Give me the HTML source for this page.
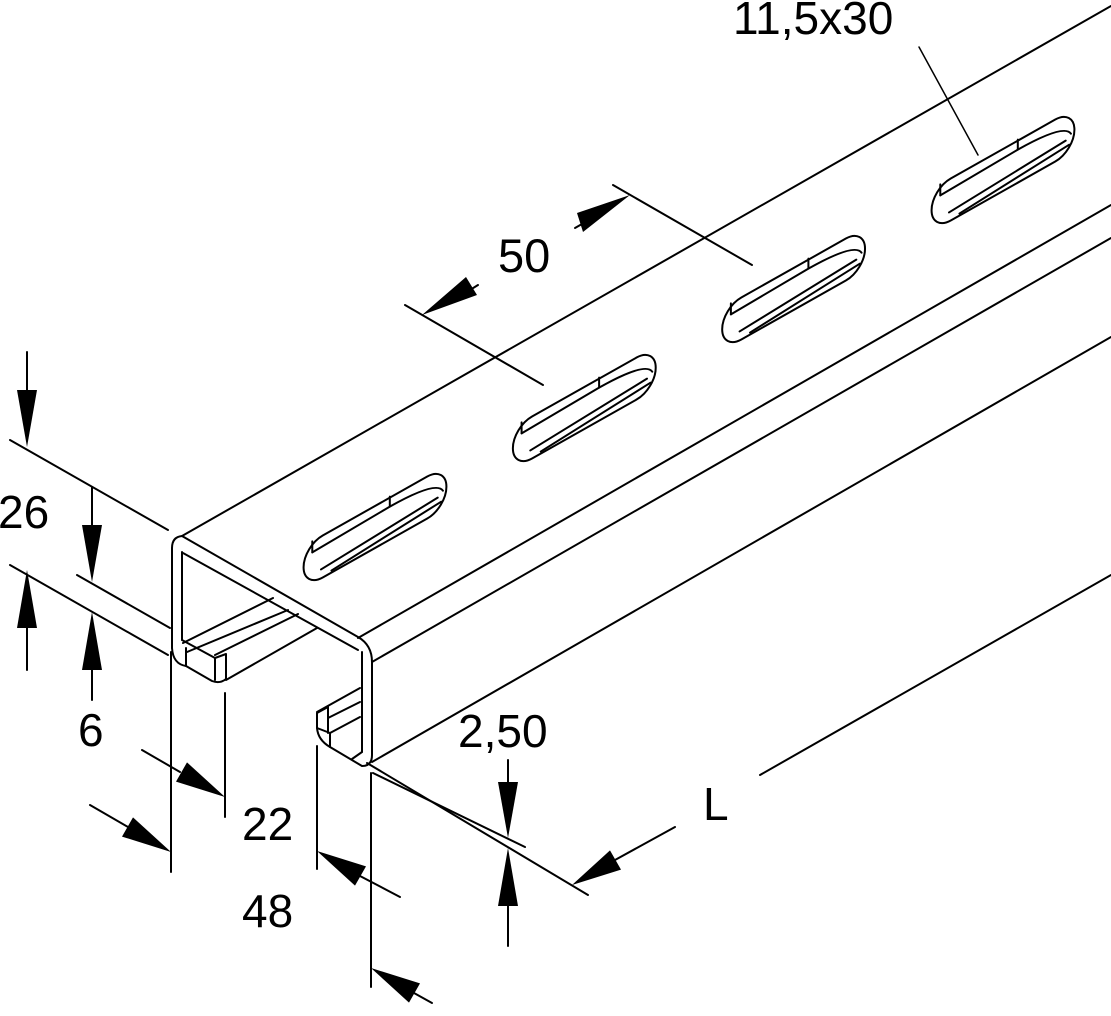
<!DOCTYPE html>
<html><head><meta charset="utf-8"><style>
html,body{margin:0;padding:0;background:#fff;}
svg{display:block;}
text{font-family:"Liberation Sans",sans-serif;fill:#000;}
</style></head><body>
<svg width="1111" height="1016" viewBox="0 0 1111 1016" xmlns="http://www.w3.org/2000/svg">
<g fill="none" stroke="#000" stroke-width="2" stroke-linecap="round" stroke-linejoin="round">
<line x1="182" y1="536" x2="1111" y2="6"/>
<line x1="358" y1="638" x2="1111" y2="205"/>
<line x1="372" y1="662" x2="1111" y2="238"/>
<line x1="372" y1="762" x2="1111" y2="337"/>
<path d="M172,648 L172,548 Q172,537 182,536 L358,637 Q372,645 372,662 L372,755 Q372,766 362,766 L330,747 Q318,740 317,728 L317,713 L328,707"/>
<path d="M183,553 L358,650 M362,652 L362,752 M182,552 L182,640"/>
<path d="M172,648 Q173,664 186,666 L212,681 Q220,684 226,679"/>
<path d="M182,640 L215,658 L215,680 M226,654 L226,679 M215,658 L226,654"/>
<path d="M186,666 L186,648"/>
<line x1="183" y1="643" x2="273" y2="598"/>
<line x1="187" y1="652" x2="288" y2="610"/>
<line x1="215" y1="655" x2="298" y2="614"/>
<line x1="226" y1="680" x2="317" y2="628"/>
<line x1="317" y1="712" x2="360" y2="688"/>
<line x1="328" y1="718" x2="360" y2="702"/>
<line x1="330" y1="733" x2="360" y2="717"/>
<path d="M328,707 L328,733 M330,747 L330,733 M317,728 L330,733 M352,759 L362,752"/>
<g id="slot">
<g transform="matrix(0.871,-0.491,0,1,375,527)">
<rect x="-82" y="-21" width="164" height="42" rx="22" ry="21" vector-effect="non-scaling-stroke"/>
<path d="M-72,-21 L-72,-10 M17,-22 L17,-12" vector-effect="non-scaling-stroke"/>
<path d="M-72,-10 L17,-12 Q70,-12 78,2" vector-effect="non-scaling-stroke"/>
<line x1="-62" y1="12" x2="72" y2="6" vector-effect="non-scaling-stroke"/>
<line x1="-50" y1="19" x2="76" y2="12" vector-effect="non-scaling-stroke"/>
</g>
</g>
<use href="#slot" transform="translate(209.3,-119)"/>
<use href="#slot" transform="translate(418.6,-238)"/>
<use href="#slot" transform="translate(628,-357)"/>
<line x1="919" y1="47" x2="978" y2="155" stroke-width="1.5"/>
<line x1="613" y1="185" x2="752" y2="265"/>
<line x1="405" y1="305" x2="543" y2="385"/>
<line x1="575" y1="228" x2="582" y2="224"/>
<line x1="470" y1="290" x2="478" y2="285"/>
<line x1="27" y1="352" x2="27" y2="400"/>
<line x1="10" y1="440" x2="168" y2="530"/>
<line x1="92" y1="487" x2="92" y2="530"/>
<line x1="77" y1="575" x2="170" y2="628"/>
<line x1="10" y1="565" x2="168" y2="655"/>
<line x1="27" y1="620" x2="27" y2="670"/>
<line x1="92" y1="660" x2="92" y2="700"/>
<line x1="171" y1="652" x2="171" y2="872"/>
<line x1="225" y1="693" x2="225" y2="817"/>
<line x1="142" y1="750" x2="180" y2="772"/>
<line x1="90" y1="805" x2="128" y2="827"/>
<line x1="317" y1="746" x2="317" y2="869"/>
<line x1="371" y1="773" x2="371" y2="987"/>
<line x1="360" y1="876" x2="400" y2="897"/>
<line x1="414" y1="993" x2="432" y2="1003"/>
<line x1="367" y1="763" x2="588" y2="895"/>
<line x1="373" y1="773" x2="525" y2="847"/>
<line x1="508" y1="760" x2="508" y2="790"/>
<line x1="508" y1="900" x2="508" y2="946"/>
<line x1="615" y1="860" x2="675" y2="827"/>
<line x1="760" y1="775" x2="1111" y2="575"/>
</g>
<g fill="#000" stroke="none">
<polygon points="27,447 17,390 37,390"/>
<polygon points="92,582 82,525 102,525"/>
<polygon points="27,570 17,628 37,628"/>
<polygon points="92,612 82,670 102,670"/>
<polygon points="225,797 176,781.6 187,762.4"/>
<polygon points="171,852 122,836.6 133,817.4"/>
<polygon points="317,851 366,866.4 355,885.6"/>
<polygon points="371,968 420,983.4 409,1002.6"/>
<polygon points="508,838 498,782 518,782"/>
<polygon points="508,848 498,906 518,906"/>
<polygon points="572,885 621,869.6 610,850.4"/>
<polygon points="630,195 583,232 577,213"/>
<polygon points="422,315 466,277 477,295"/>
</g>
<text x="733" y="34" font-size="46">11,5x30</text>
<text x="498" y="272" font-size="47">50</text>
<text x="-2" y="528" font-size="46">26</text>
<text x="78" y="746" font-size="46">6</text>
<text x="242" y="840" font-size="46">22</text>
<text x="242" y="927" font-size="46">48</text>
<text x="458" y="747" font-size="46">2,50</text>
<text x="703" y="820" font-size="46">L</text>
</svg>
</body></html>
